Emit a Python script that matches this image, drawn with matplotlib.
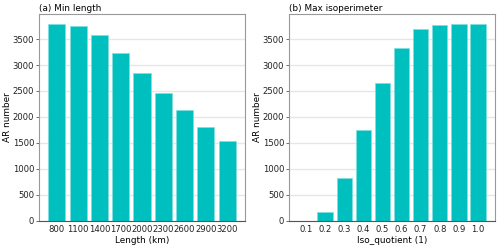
import matplotlib
matplotlib.use('Agg')
import matplotlib.pyplot as plt
import numpy as np

lengths = ['800', '1100', '1400', '1700', '2000', '2300', '2600', '2900', '3200']
ar_len = [3790, 3750, 3575, 3235, 2850, 2465, 2135, 1815, 1535]

iso_q = ['0.1', '0.2', '0.3', '0.4', '0.5', '0.6', '0.7', '0.8', '0.9', '1.0']
ar_iso = [0, 165, 825, 1750, 2645, 3320, 3695, 3770, 3790, 3790]

col = '#00bfbf'
fs = 6.1

fig = plt.figure(figsize=(5, 2.48), dpi=100)
ax1 = fig.add_axes([0.078, 0.11, 0.412, 0.833])
ax2 = fig.add_axes([0.578, 0.11, 0.412, 0.833])

def draw(ax, cats, vals, title, xlabel):
    x = np.arange(len(cats))
    ax.set_axisbelow(True)
    ax.grid(axis='y', color='#e6e6e6', lw=1.0)
    ax.bar(x, vals, width=0.8, color=col, edgecolor='#7fdfdf', lw=0.5)
    ax.set_xticks(x)
    ax.set_xticklabels(cats, fontsize=fs, color='#222222')
    ax.set_ylim(0, 3980)
    ax.set_yticks(np.arange(0, 3501, 500))
    ax.tick_params(axis='y', labelsize=fs, labelcolor='#222222', length=2, width=0.6, color='#555555', pad=1.5)
    ax.tick_params(axis='x', length=0, pad=3)
    for s in ax.spines.values():
        s.set_color('#999999')
        s.set_linewidth(0.8)
    ax.spines['bottom'].set_color('#555555')
    ax.set_title(title, loc='left', fontsize=fs + 0.3, pad=2)
    ax.set_xlabel(xlabel, fontsize=fs + 0.3, labelpad=1.5)
    ax.set_ylabel('AR number', fontsize=fs + 0.3, labelpad=0.5)

draw(ax1, lengths, ar_len, '(a) Min length', 'Length (km)')
draw(ax2, iso_q, ar_iso, '(b) Max isoperimeter', 'Iso_quotient (1)')

fig.savefig('out.png', dpi=100)
